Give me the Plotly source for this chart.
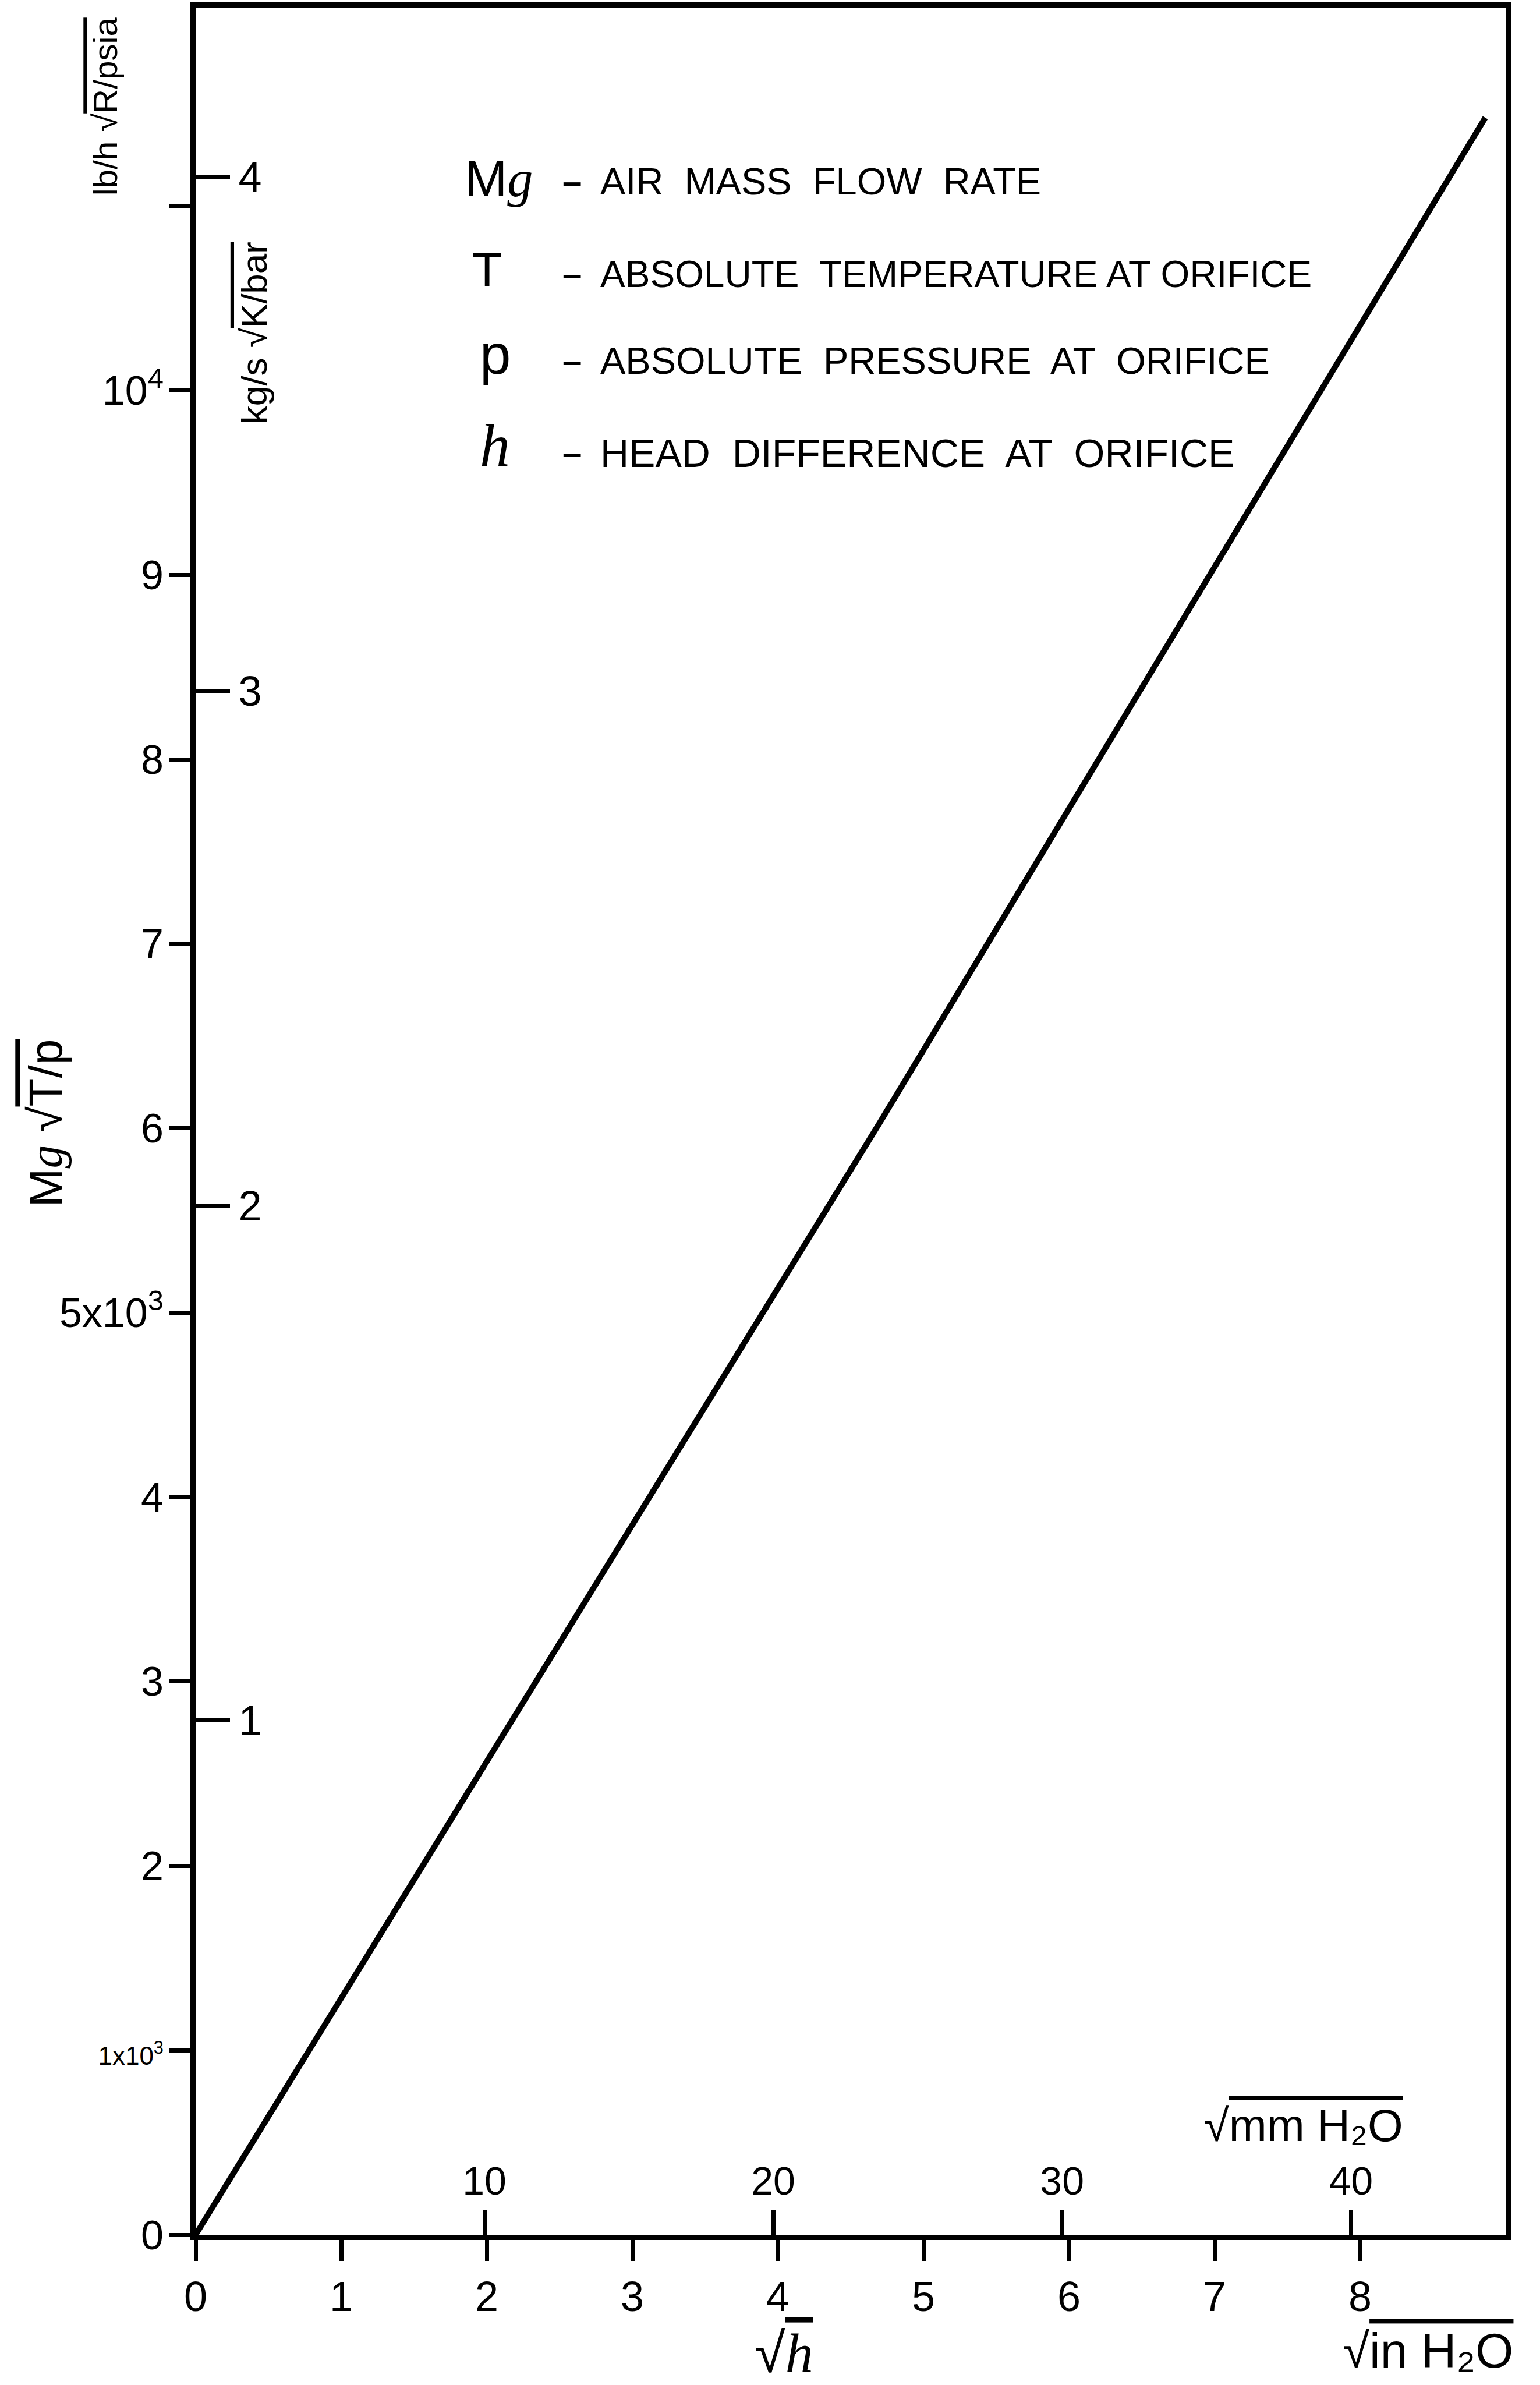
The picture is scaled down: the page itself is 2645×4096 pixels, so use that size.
import math
import plotly.graph_objects as go

# Orifice calibration line: corrected air mass flow vs square root of head
sqrt_h_in = [0.0, 4.70, 8.86]            # sqrt(in H2O)
flow_param = [0, 6030, 11480]            # Mg*sqrt(T)/p  [lb/h * sqrt(R)/psia]

# Left (English) flow-parameter axis
flow_ticks = [0, 1000, 2000, 3000, 4000, 5000, 6000, 7000, 8000, 9000, 10000, 11000]
flow_tick_text = [
    "0",
    "<span style='font-size:44px'>1x10<sup>3</sup></span>",
    "2", "3", "4",
    "5x10<sup>3</sup>",
    "6", "7", "8", "9",
    "10<sup>4</sup>",
    "",
]

# Inner (SI) flow-parameter axis  [kg/s * sqrt(K)/bar]
si_ticks = [1, 2, 3, 4]
si_factor = 2790          # English units per SI unit on this chart

# Head scales
in_ticks = [0, 1, 2, 3, 4, 5, 6, 7, 8]    # sqrt(in H2O)
mm_ticks = [10, 20, 30, 40]                # sqrt(mm H2O)
mm_per_in_sqrt = math.sqrt(25.4)

# Legend of symbols
SERIF_I = "<span style='font-family:Liberation Serif'><i>{}</i></span>"
symbols = ["M" + SERIF_I.format("g"), "T", "p", SERIF_I.format("h")]
descriptions = ["AIR  MASS  FLOW  RATE",
                "ABSOLUTE  TEMPERATURE AT ORIFICE",
                "ABSOLUTE  PRESSURE  AT  ORIFICE",
                "HEAD  DIFFERENCE  AT  ORIFICE"]

X_MAX = 9.004
Y_MAX = 12077
FONT = "Liberation Sans, Arial, sans-serif"
INK = "black"


def paper(xd, yd):
    """Position in paper units from chart (x, y) units."""
    return xd / X_MAX, yd / Y_MAX


fig = go.Figure()

fig.add_trace(go.Scatter(
    x=sqrt_h_in, y=flow_param, mode="lines",
    line=dict(color=INK, width=10), hoverinfo="skip", showlegend=False,
))
# empty traces so the secondary scales are laid out
fig.add_trace(go.Scatter(x=[], y=[], xaxis="x2", yaxis="y", showlegend=False))
fig.add_trace(go.Scatter(x=[], y=[], xaxis="x", yaxis="y2", showlegend=False))

common = dict(showgrid=False, zeroline=False, fixedrange=True, color=INK)

fig.update_layout(
    width=2645, height=4096,
    margin=dict(l=336, r=58, t=13, b=258, autoexpand=False),
    paper_bgcolor="white", plot_bgcolor="white",
    showlegend=False,
    font=dict(family=FONT, color=INK, size=70),
    xaxis=dict(
        range=[0, X_MAX], tickmode="array", tickvals=in_ticks,
        ticktext=[str(v) for v in in_ticks],
        ticks="outside", ticklen=36, tickwidth=7, tickcolor=INK,
        tickfont=dict(size=72, family=FONT, color=INK),
        showline=True, linewidth=9, linecolor=INK, mirror=True,
        ticklabelstandoff=0, **common,
    ),
    xaxis2=dict(
        overlaying="x", anchor="free", position=0, side="top",
        range=[0, X_MAX * mm_per_in_sqrt], tickmode="array", tickvals=mm_ticks,
        ticktext=[str(v) for v in mm_ticks],
        ticks="outside", ticklen=42, tickwidth=7, tickcolor=INK,
        tickfont=dict(size=68, family=FONT, color=INK),
        showline=False, **common,
    ),
    yaxis=dict(
        range=[0, Y_MAX], tickmode="array", tickvals=flow_ticks,
        ticktext=flow_tick_text,
        ticks="outside", ticklen=36, tickwidth=7, tickcolor=INK,
        tickfont=dict(size=70, family=FONT, color=INK),
        showline=True, linewidth=9, linecolor=INK, mirror=True,
        ticklabelstandoff=-4, **common,
    ),
    yaxis2=dict(
        overlaying="y", anchor="free", position=0, side="right",
        range=[0, Y_MAX / si_factor], tickmode="array", tickvals=si_ticks,
        ticktext=[str(v) for v in si_ticks],
        ticks="outside", ticklen=58, tickwidth=7, tickcolor=INK,
        tickfont=dict(size=72, family=FONT, color=INK),
        showline=False, **common,
    ),
)

ann = []

# symbol legend (chart units)
sym_x = [2.083, 2.0, 2.057, 2.057]
sym_y = [11150, 10655, 10197, 9703]
sym_size = [88, 84, 96, 104]
row_y = [11134, 10631, 10161, 9662]
row_size = [65, 64, 65, 68]
for s, sx, sy, fs, ry, rs, d in zip(symbols, sym_x, sym_y, sym_size, row_y, row_size, descriptions):
    ann.append(dict(x=sx, y=sy, text=s, showarrow=False, xanchor="center", yanchor="middle",
                    font=dict(size=fs, family=FONT, color=INK)))
    ann.append(dict(x=2.585, y=ry, text="<b>–</b>", showarrow=False, xanchor="center",
                    yanchor="middle", font=dict(size=60, family=FONT, color=INK)))
    ann.append(dict(x=2.773, y=ry, text=d, showarrow=False, xanchor="left", yanchor="middle",
                    font=dict(size=rs, family=FONT, color=INK)))

OV = "<span style='text-decoration:overline'>{}</span>"
OV_H = ("<span style='text-decoration:overline;font-family:Liberation Serif;"
        "font-style:italic'>h</span>")


def paper_note(xd, yd, text, size, angle=0):
    px, py = paper(xd, yd)
    return dict(x=px, y=py, xref="paper", yref="paper", text=text, showarrow=False,
                textangle=angle, xanchor="center", yanchor="middle",
                font=dict(size=size, family=FONT, color=INK))


# rotated axis titles
ann.append(paper_note(-1.029, 6026, "M" + SERIF_I.format("g") + " √" + OV.format("T/p"), 80, -90))
ann.append(paper_note(-0.621, 11542, "lb/h √" + OV.format("R/psia"), 58, -90))
ann.append(paper_note(0.402, 10313, "kg/s √" + OV.format("K/bar"), 62, -90))

# head scale titles
ann.append(paper_note(4.04, -640, "√" + OV_H, 96))
ann.append(paper_note(8.465, -627, "√" + OV.format("in H₂O"), 84))
ann.append(paper_note(7.61, 594, "√" + OV.format("mm H₂O"), 78))

fig.update_layout(annotations=ann)

fig.write_html("out.html")
